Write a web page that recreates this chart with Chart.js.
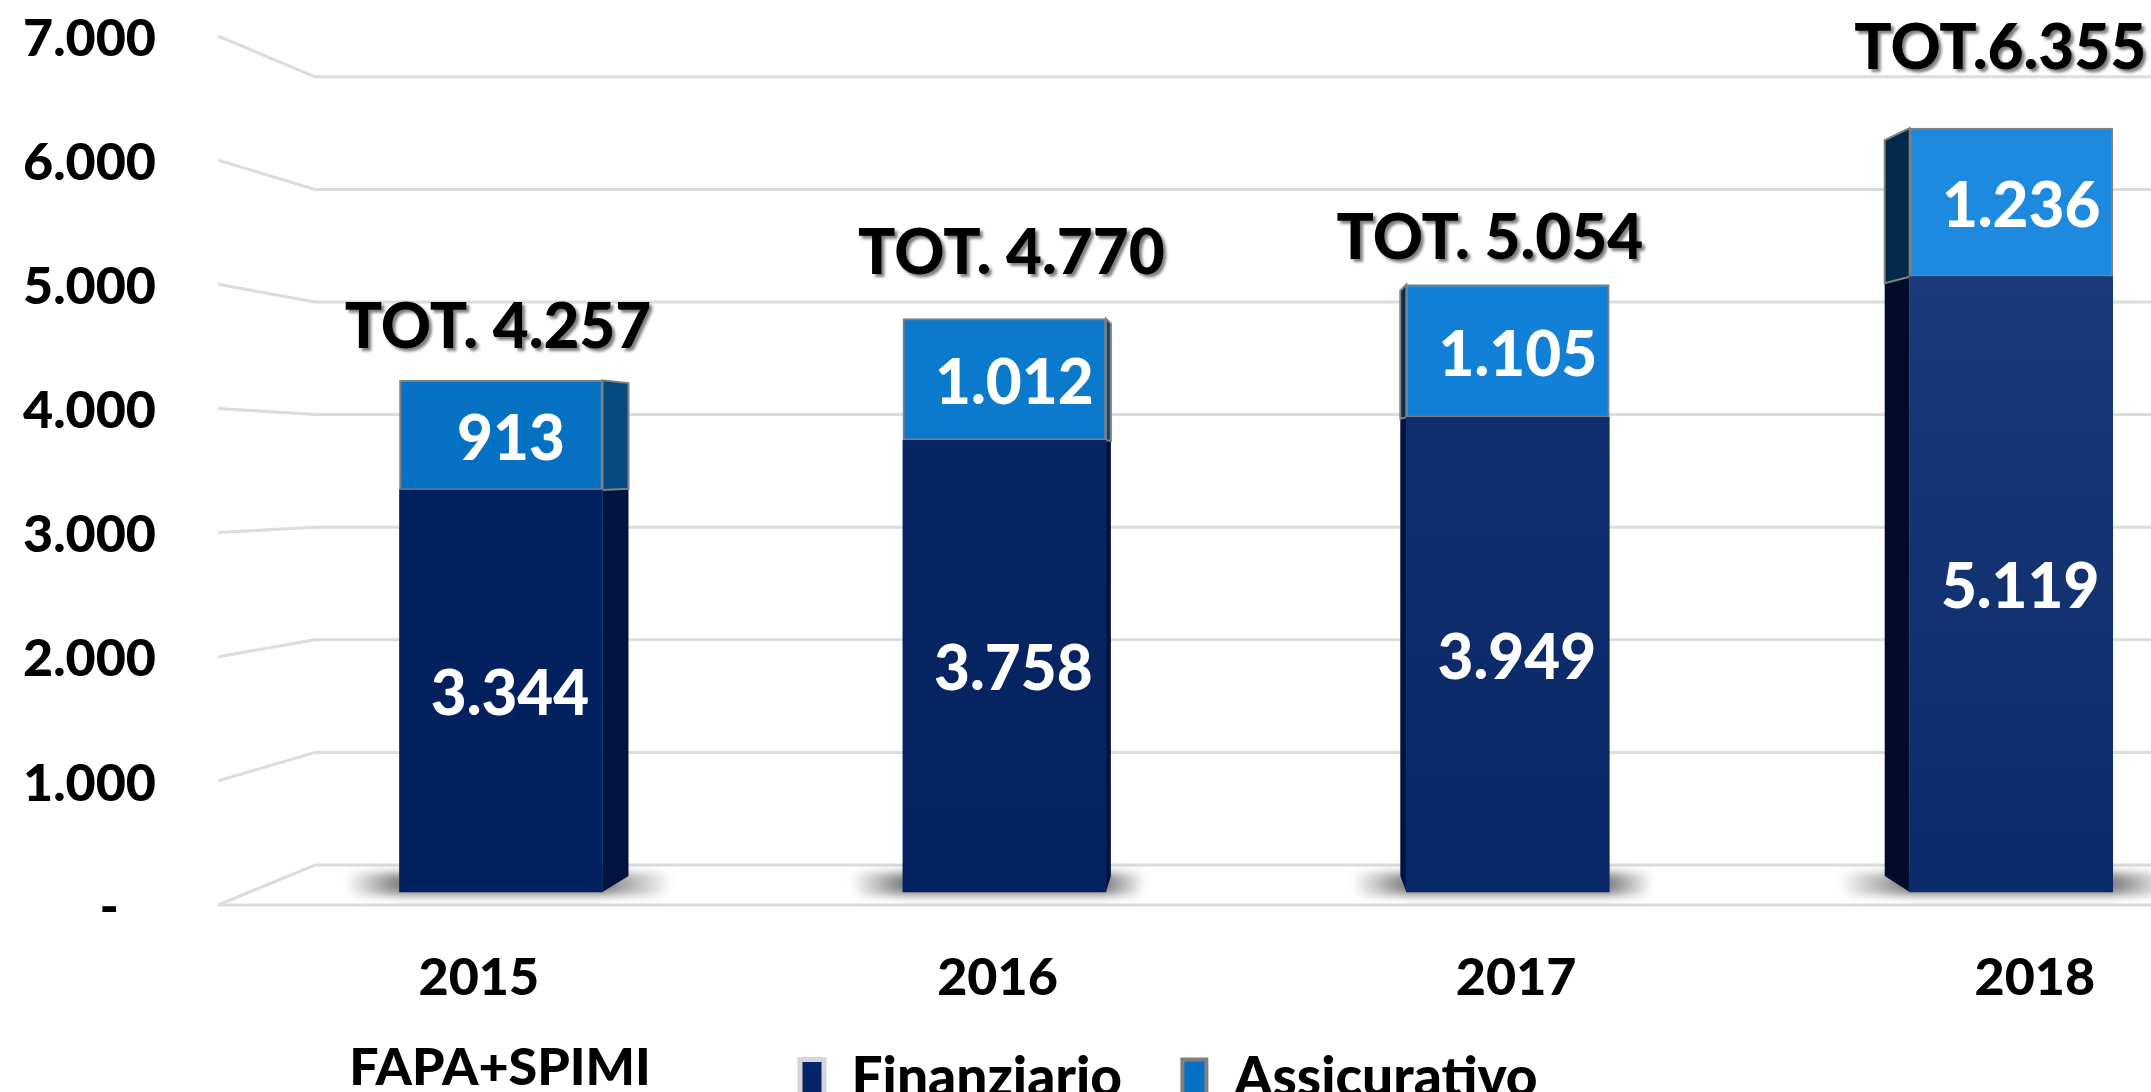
<!DOCTYPE html>
<html>
<head>
<meta charset="utf-8">
<style>
  html, body { margin: 0; padding: 0; background: #fff; overflow: hidden; }
  canvas { display: block; }
</style>
<script src="https://cdn.jsdelivr.net/npm/chart.js@4"></script>
</head>
<body>
<canvas id="chart" width="2151" height="1092"></canvas>
<script>
var years = [2015, 2016, 2017, 2018];
var finanziario = [3344, 3758, 3949, 5119];
var assicurativo = [913, 1012, 1105, 1236];
var totLabels = ['TOT. 4.257', 'TOT. 4.770', 'TOT. 5.054', 'TOT.6.355'];
var yTicks = [0, 1000, 2000, 3000, 4000, 5000, 6000, 7000];
var note = 'FAPA+SPIMI';

// colours, one per bar (the source gets lighter from left to right)
var finTop = ['#03215f', '#082663', '#0f2f6e', '#1a3a7a'];
var finBottom = ['#03215f', '#042260', '#082868', '#0a2a6a'];
var assFill = ['#0671c3', '#0b79cc', '#1180d6', '#1d8ae0'];
var finSide = ['#011441', '#011441', '#011441', '#010c2a'];
var assSide = ['#034a80', '#034a80', '#02304f', '#012a4a'];

// fake 3D: depth of the side face, shadow reach, and where the labels sit relative to the bar
var sideDepth = [26, 5, -6, -25];
var shadowReach = [[55, 70], [53, 40], [55, 44], [72, 60]];
var totOffset = [[-3, -52], [7, -65], [-18, -46], [-11, -79]];
var FONT = 'Lato, "Open Sans", sans-serif';
var GRID = '#dcdcdc';
var WALL_FRONT = 218, WALL_BACK = 315;

function fmt(v) {
  return String(v).replace(/\B(?=(\d{3})+$)/g, '.');
}

function finGradient(c) {
  var s = c.chart.scales.yBar;
  if (!s || c.dataIndex == null) return finBottom[0];
  var i = c.dataIndex;
  var g = c.chart.ctx.createLinearGradient(0, s.getPixelForValue(finanziario[i]), 0, s.getPixelForValue(0));
  g.addColorStop(0, finTop[i]);
  g.addColorStop(1, finBottom[i]);
  return g;
}

function poly(ctx, pts, fill, stroke) {
  ctx.beginPath();
  pts.forEach(function(p, i) { if (i) ctx.lineTo(p[0], p[1]); else ctx.moveTo(p[0], p[1]); });
  ctx.closePath();
  ctx.fillStyle = fill;
  ctx.fill();
  if (stroke) { ctx.strokeStyle = stroke; ctx.lineWidth = 2; ctx.stroke(); }
}

var wallPlugin = {
  id: 'wall',
  beforeDatasetsDraw: function(chart) {
    var ctx = chart.ctx, front = chart.scales.y, back = chart.scales.yBack;
    var right = chart.chartArea.right;
    ctx.save();
    ctx.strokeStyle = GRID;
    ctx.lineWidth = 3;
    yTicks.forEach(function(v) {
      ctx.beginPath();
      ctx.moveTo(WALL_FRONT, front.getPixelForValue(v));
      ctx.lineTo(WALL_BACK, back.getPixelForValue(v));
      ctx.lineTo(right, back.getPixelForValue(v));
      ctx.stroke();
    });
    ctx.beginPath();
    ctx.moveTo(WALL_FRONT, front.getPixelForValue(0));
    ctx.lineTo(right, front.getPixelForValue(0));
    ctx.stroke();

    // floor shadows, dark next to the bar and fading outwards
    var bars = chart.getDatasetMeta(0).data;
    bars.forEach(function(b, i) {
      var l = b.x - b.width / 2 - shadowReach[i][0], r = b.x + b.width / 2 + shadowReach[i][1];
      var g = ctx.createLinearGradient(l, 0, r, 0);
      var lf = shadowReach[i][0] / (r - l), rf = shadowReach[i][1] / (r - l);
      g.addColorStop(0, 'rgba(128,128,128,0)');
      g.addColorStop(lf, 'rgba(128,128,128,1)');
      g.addColorStop(1 - rf, 'rgba(128,128,128,1)');
      g.addColorStop(1, 'rgba(128,128,128,0)');
      ctx.save();
      ctx.filter = 'blur(5px)';
      poly(ctx, [[l, 873], [r, 873], [r - 8, 895], [l + 8, 895]], g);
      ctx.restore();
    });
    ctx.restore();
  }
};

var sidePlugin = {
  id: 'sides',
  beforeDatasetsDraw: function(chart) {
    var ctx = chart.ctx, bar = chart.scales.yBar, depth = chart.scales.yDepth;
    var bars = chart.getDatasetMeta(0).data;
    ctx.save();
    bars.forEach(function(b, i) {
      var d = sideDepth[i];
      var edge = d > 0 ? b.x + b.width / 2 : b.x - b.width / 2;
      var out = edge + d;
      var f = finanziario[i], t = f + assicurativo[i];
      poly(ctx, [[edge, bar.getPixelForValue(0)], [out, depth.getPixelForValue(0)],
                 [out, depth.getPixelForValue(f)], [edge, bar.getPixelForValue(f)]], finSide[i]);
      poly(ctx, [[edge, bar.getPixelForValue(f)], [out, depth.getPixelForValue(f)],
                 [out, depth.getPixelForValue(t)], [edge, bar.getPixelForValue(t)]], assSide[i], '#808080');
    });
    ctx.restore();
  }
};

var labelPlugin = {
  id: 'labels',
  afterLayout: function(chart) {
    // legend sits at the very bottom, cut by the edge of the picture like the source
    var lg = chart.legend;
    var pad = lg.options.labels.padding;
    lg.left = 800 - pad;
    lg.right = 2151;
    lg.top = 1051 - pad;
    lg.bottom = 1092;
  },
  afterDatasetsDraw: function(chart) {
    var ctx = chart.ctx, s = chart.scales.yBar;
    var bars = chart.getDatasetMeta(0).data;
    ctx.save();
    ctx.textAlign = 'center';
    ctx.textBaseline = 'middle';

    ctx.fillStyle = '#fff';
    ctx.font = '900 62px ' + FONT;
    bars.forEach(function(b, i) {
      var f = finanziario[i], t = f + assicurativo[i];
      ctx.fillText(fmt(f), b.x + 9, (s.getPixelForValue(0) + s.getPixelForValue(f)) / 2 + 4);
      ctx.fillText(fmt(assicurativo[i]), b.x + 10, (s.getPixelForValue(f) + s.getPixelForValue(t)) / 2 + 5);
    });

    ctx.save();
    ctx.fillStyle = '#000';
    ctx.font = '900 62px ' + FONT;
    ctx.shadowColor = 'rgba(0,0,0,0.5)';
    ctx.shadowOffsetX = 3;
    ctx.shadowOffsetY = 3;
    ctx.shadowBlur = 3;
    bars.forEach(function(b, i) {
      var t = finanziario[i] + assicurativo[i];
      ctx.fillText(totLabels[i], b.x + totOffset[i][0], s.getPixelForValue(t) + totOffset[i][1]);
    });
    ctx.restore();

    ctx.fillStyle = '#000';
    ctx.font = '900 52px ' + FONT;
    ctx.fillText(note, 500, 1068);
    ctx.restore();
  }
};

new Chart(document.getElementById('chart'), {
  type: 'bar',
  data: {
    datasets: [
      {
        label: 'Finanziario',
        data: years.map(function(y, i) { return { x: y, y: finanziario[i] }; }),
        backgroundColor: finGradient,
        xAxisID: 'xBar', yAxisID: 'yBar',
        barThickness: 203, borderWidth: 0
      },
      {
        label: 'Assicurativo',
        data: years.map(function(y, i) { return { x: y, y: assicurativo[i] }; }),
        backgroundColor: function(c) { return c.dataIndex == null ? assFill[0] : assFill[c.dataIndex]; },
        borderColor: '#808080', borderWidth: 2, borderSkipped: false,
        xAxisID: 'xBar', yAxisID: 'yBar',
        barThickness: 203
      }
    ]
  },
  plugins: [wallPlugin, sidePlugin, labelPlugin],
  options: {
    responsive: false,
    animation: false,
    layout: { padding: { top: 36, right: 0, bottom: 0, left: 0 } },
    plugins: {
      tooltip: { enabled: false },
      legend: {
        position: 'bottom',
        align: 'start',
        onClick: null,
        labels: {
          boxWidth: 24, boxHeight: 38, padding: 8, color: '#000',
          font: { family: FONT, size: 55, weight: '900' },
          generateLabels: function() {
            return [
              { text: 'Finanziario    ', fillStyle: '#06246a', strokeStyle: '#d6d6d6', lineWidth: 5, datasetIndex: 0 },
              { text: 'Assicurativo', fillStyle: assFill[0], strokeStyle: '#808080', lineWidth: 4, datasetIndex: 1 }
            ];
          }
        }
      }
    },
    scales: {
      x: {
        type: 'linear', axis: 'x', position: 'bottom',
        offset: false,
        min: 2014.393, max: 2018.224,
        border: { display: false },
        grid: { display: false },
        afterBuildTicks: function(a) { a.ticks = years.map(function(y) { return { value: y }; }); },
        afterFit: function(a) { a.height = 187 - (a.chart.legend ? a.chart.legend.height : 0); },
        ticks: {
          padding: 34, maxRotation: 0, autoSkip: false, color: '#000',
          font: { family: FONT, size: 52, weight: '900' },
          callback: function(v) { return String(v); }
        }
      },
      y: {
        type: 'linear', axis: 'y', position: 'left',
        min: 0, max: 7000,
        border: { display: false },
        grid: { display: false },
        afterBuildTicks: function(a) { a.ticks = yTicks.map(function(v) { return { value: v }; }); },
        afterFit: function(a) { a.width = 164; },
        ticks: {
          padding: 0, labelOffset: 3, autoSkip: false, color: '#000',
          font: { family: FONT, size: 52, weight: '900' },
          callback: function(v) { return v === 0 ? '-   ' : fmt(v); }
        }
      },
      xBar: { type: 'linear', axis: 'x', display: false, stacked: true, offset: false, min: 2014.3306, max: 2018.2777 },
      yBar: { type: 'linear', axis: 'y', display: false, stacked: true, min: -108.15, max: 7121.5 },
      yBack: { type: 'linear', axis: 'y', display: false, min: -355.2, max: 7362.4 },
      yDepth: { type: 'linear', axis: 'y', display: false, min: -250.4, max: 7253.8 }
    }
  }
});
</script>
</body>
</html>
